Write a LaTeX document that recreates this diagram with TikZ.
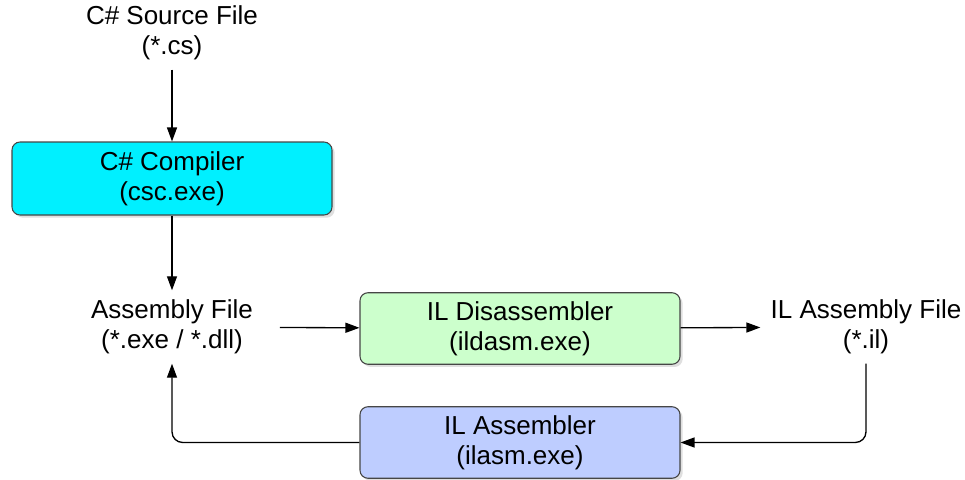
\documentclass[tikz,border=0pt]{standalone}
\usepackage{fontspec}
\setmainfont{Liberation Sans}
\usepackage{tikz}
\usepackage{xcolor}
\usetikzlibrary{arrows.meta,shadows}

\definecolor{cscfill}{RGB}{0,240,255}
\definecolor{disfill}{RGB}{204,255,204}
\definecolor{asmfill}{RGB}{190,205,255}
\definecolor{boxline}{RGB}{70,70,70}

\tikzset{
  tool/.style={draw=boxline, line width=0.8pt, rounded corners=6pt, align=center,
    minimum width=240pt, drop shadow={shadow xshift=2pt, shadow yshift=-2pt, opacity=0.25}},
  file/.style={align=center, inner ysep=7pt},
  arr/.style={-{Triangle[length=10.5pt,width=7.5pt]}, line width=1pt},
}

\begin{document}
\begin{tikzpicture}[x=0.75pt,y=0.75pt,yscale=-1,xscale=1]
\useasboundingbox (0,0) rectangle (965,479);
\fontsize{19.5}{22.5}\selectfont

% Text Node
\node (src) [file] at (172,33) {C\# Source File\\(*.cs)};
% Compiler
\node (csc) [tool, fill=cscfill, minimum height=54.75pt] at (172,178.5) {C\# Compiler\\(csc.exe)};
% Text Node
\node (asm) [file, inner xsep=20pt] at (172,327) {Assembly File\\(*.exe / *.dll)};
% Disassembler
\node (ildasm) [tool, fill=disfill, minimum height=50.25pt] at (520,328.5) {IL Disassembler\\(ildasm.exe)};
% Text Node
\node (ilf) [file, inner xsep=7.5pt] at (866,327) {IL Assembly File\\(*.il)};
% Assembler
\node (ilasm) [tool, fill=asmfill, minimum height=48.75pt] at (520,442.5) {IL Assembler\\(ilasm.exe)};

% connectors
\draw [arr] (src) -- (csc);
\draw [arr] (csc) -- (asm);
\draw [arr] (asm) -- (ildasm);
\draw [arr] (ildasm) -- (ilf);
\draw [arr, rounded corners=8pt] (ilf.south) |- (ilasm.east);
\draw [arr, rounded corners=8pt] (ilasm.west) -| (asm.south);

\end{tikzpicture}
\end{document}
